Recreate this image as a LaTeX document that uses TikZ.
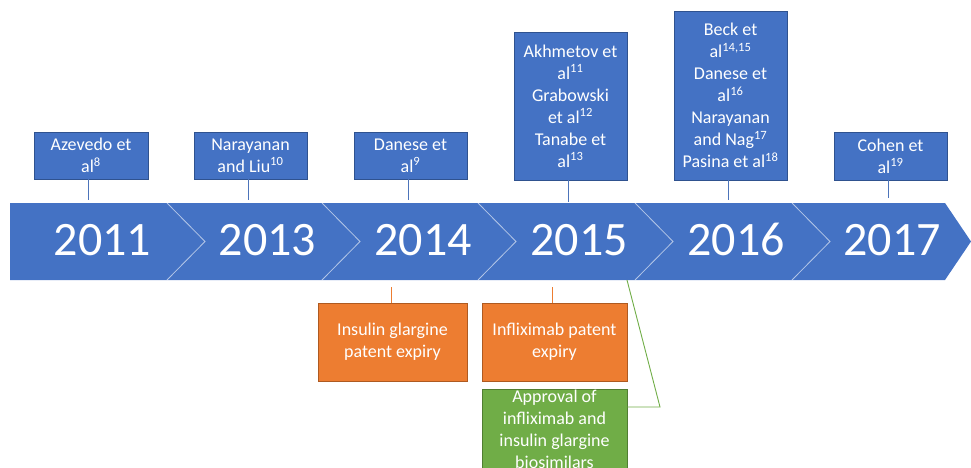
\documentclass[tikz,border=0pt]{standalone}
\usepackage{fontspec}
\setmainfont{Carlito}
\definecolor{obl}{HTML}{4472C4}
\definecolor{oblb}{HTML}{2F528F}
\definecolor{oor}{HTML}{ED7D31}
\definecolor{oorb}{HTML}{AE5A21}
\definecolor{ogr}{HTML}{70AD47}
\definecolor{ogrb}{HTML}{507E32}
\begin{document}
\begin{tikzpicture}[x=1pt,y=-1pt,
  box/.style={draw, line width=0.8pt, text=white, align=center, inner sep=0pt,
    font=\fontsize{18}{22}\selectfont},
  bluebox/.style={box, fill=obl, draw=oblb},
  orbox/.style={box, fill=oor, draw=oorb},
  grbox/.style={box, fill=ogr, draw=ogrb},
  year/.style={text=white, font=\fontsize{48}{52}\selectfont, inner sep=0pt, anchor=base},
  sep/.style={draw=white, draw opacity=0.6, line width=0.8pt},
  bcon/.style={draw=obl!85!gray, line width=0.9pt},
  ocon/.style={draw=oor, line width=0.9pt},
  gcon/.style={draw=ogr, line width=0.9pt}]
\useasboundingbox (0,0) rectangle (971,468);
% arrow band
\fill[obl] (10,203) -- (945,203) -- (971,241.5) -- (945,280) -- (10,280) -- cycle;
\foreach \x in {167,322,478,635,792}
  \draw[sep] (\x,203) -- (\x+38,241.5) -- (\x,280);
% years
\node[year] (y11) at (102.5,255) {2011};
\node[year] (y13) at (267.5,255) {2013};
\node[year] (y14) at (423,255) {2014};
\node[year] (y15) at (579,255) {2015};
\node[year] (y16) at (736,255) {2016};
\node[year] (y17) at (892,255) {2017};
% top boxes
\node[bluebox, minimum width=114pt, minimum height=47pt] (az) at (91,155.5)
  {Azevedo et\\al\textsuperscript{8}};
\node[bluebox, minimum width=113pt, minimum height=47pt] (nl) at (250.5,155.5)
  {Narayanan\\and Liu\textsuperscript{10}};
\node[bluebox, minimum width=113pt, minimum height=47pt] (da) at (410.5,155.5)
  {Danese et\\al\textsuperscript{9}};
\node[bluebox, minimum width=113pt, minimum height=148pt] (ak) at (570.5,106)
  {Akhmetov et\\al\textsuperscript{11}\\Grabowski\\et al\textsuperscript{12}\\Tanabe et\\al\textsuperscript{13}};
\node[bluebox, minimum width=113pt, minimum height=169pt] (be) at (730.5,95.5)
  {Beck et\\al\textsuperscript{14,15}\\Danese et\\al\textsuperscript{16}\\Narayanan\\and Nag\textsuperscript{17}\\Pasina et al\textsuperscript{18}};
\node[bluebox, minimum width=113pt, minimum height=48pt] (co) at (890.5,156)
  {Cohen et\\al\textsuperscript{19}};
% connector ends on the band
\coordinate (caz) at (88,200);
\coordinate (cnl) at (248,200);
\coordinate (cda) at (408,200);
\coordinate (cak) at (568,202);
\coordinate (cbe) at (728,200);
\coordinate (cco) at (888,198);
\draw[bcon] (az.south -| caz) -- (caz);
\draw[bcon] (nl.south -| cnl) -- (cnl);
\draw[bcon] (da.south -| cda) -- (cda);
\draw[bcon] (ak.south -| cak) -- (cak);
\draw[bcon] (be.south -| cbe) -- (cbe);
\draw[bcon] (co.south -| cco) -- (cco);
% bottom boxes
\node[orbox, minimum width=149pt, minimum height=78pt] (ins) at (392.5,342)
  {Insulin glargine\\patent expiry};
\node[orbox, minimum width=145pt, minimum height=78pt] (inf) at (554.5,342)
  {Infliximab patent\\expiry};
\node[grbox, minimum width=145pt, minimum height=78pt] (app) at (554.5,429)
  {Approval of\\infliximab and\\insulin glargine\\biosimilars};
\coordinate (cins) at (391,287);
\coordinate (cinf) at (552,287);
\draw[ocon] (cins) -- (ins.north -| cins);
\draw[ocon] (cinf) -- (inf.north -| cinf);
\coordinate (gband) at (627,280);
\coordinate (gbend) at (660,407);
\draw[gcon] (gband) -- (gbend) -- (app.east |- gbend);
\end{tikzpicture}
\end{document}
